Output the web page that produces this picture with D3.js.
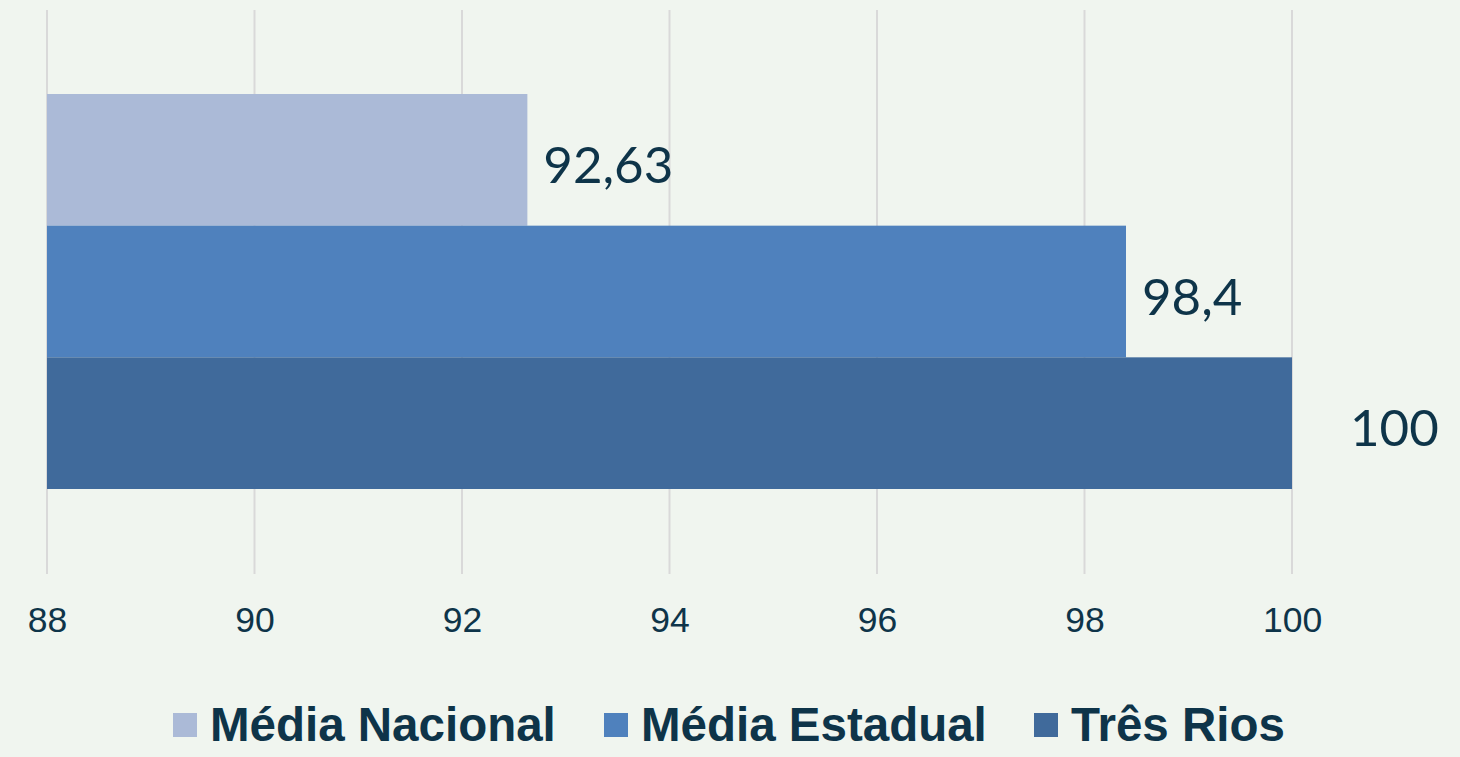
<!DOCTYPE html>
<html><head><meta charset="utf-8">
<script src="https://cdn.jsdelivr.net/npm/d3@7"></script>
<style>html,body{margin:0;padding:0;background:#f0f5ef;}svg{display:block;}</style>
</head><body>
<script>
const seriesNames = ["Média Nacional", "Média Estadual", "Três Rios"];
const seriesValues = [92.63, 98.4, 100];
const valueLabels = ["92,63", "98,4", "100"];
const tickValues = [88, 90, 92, 94, 96, 98, 100];
const colors = ["#abbad7", "#4f81bd", "#406a9b"];
const labelGap = [16, 16, 58];

const W = 1460, H = 757;
const svg = d3.select("body").append("svg").attr("width", W).attr("height", H);
svg.append("rect").attr("width", W).attr("height", H).attr("fill", "#f0f5ef");

const x = d3.scaleLinear().domain([88, 100]).range([47, 1292]);
const y = d3.scaleBand().domain(seriesNames).range([94, 489]);

// gridlines
svg.append("g").selectAll("line").data(tickValues).join("line")
  .attr("x1", d => x(d)).attr("x2", d => x(d))
  .attr("y1", 10).attr("y2", 574)
  .attr("stroke", "#d9d9d9").attr("stroke-width", 2);

// axis labels
const axis = d3.axisBottom(x).tickValues(tickValues).tickSize(0).tickPadding(0).tickFormat(d3.format("d"));
const gA = svg.append("g").attr("transform", "translate(0,632)").call(axis);
gA.select(".domain").remove();
gA.selectAll("text").attr("font-family", "Liberation Sans, Arial, sans-serif")
  .attr("font-size", 35.5).attr("fill", "#0e3449").attr("dy", 0);

// bars
svg.append("g").selectAll("rect").data(seriesValues).join("rect")
  .attr("x", x(88)).attr("y", (d, i) => y(seriesNames[i]))
  .attr("width", d => x(d) - x(88)).attr("height", y.bandwidth())
  .attr("fill", (d, i) => colors[i]);

// value labels
svg.append("g").selectAll("text").data(seriesValues).join("text")
  .attr("x", (d, i) => x(d) + labelGap[i])
  .attr("y", (d, i) => y(seriesNames[i]) + y.bandwidth() / 2 + 23)
  .attr("font-family", "Lato, 'Open Sans', sans-serif")
  .attr("font-size", 51).attr("fill", "#0e3449")
  .text((d, i) => valueLabels[i]);

// legend
const legendX = [173, 604, 1034];
const lg = svg.append("g");
seriesNames.forEach((n, i) => {
  lg.append("rect").attr("x", legendX[i]).attr("y", 713).attr("width", 24).attr("height", 24).attr("fill", colors[i]);
  lg.append("text").attr("x", legendX[i] + 37).attr("y", 741)
    .attr("font-family", "Liberation Sans, Arial, sans-serif").attr("font-weight", "bold")
    .attr("font-size", 47.5).attr("fill", "#0e3449").text(n);
});
</script>
</body></html>
